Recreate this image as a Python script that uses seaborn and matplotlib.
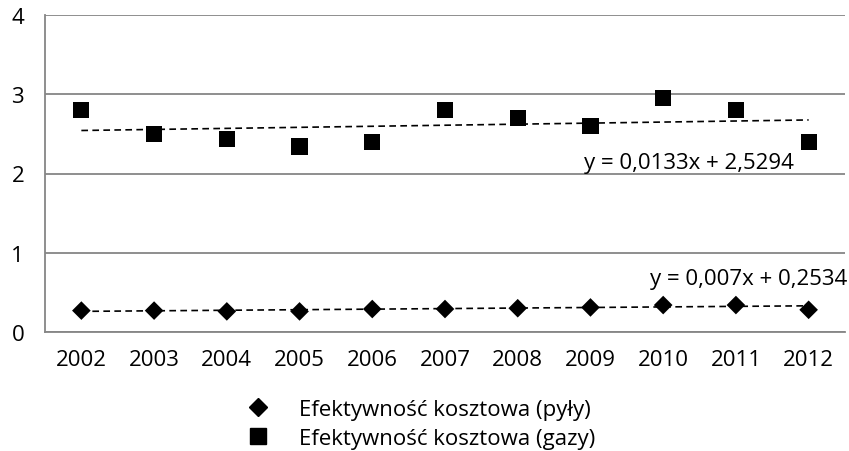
import matplotlib
matplotlib.use("Agg")
import matplotlib.pyplot as plt
import seaborn as sns
import numpy as np
import pandas as pd
from matplotlib.lines import Line2D

years = ["2002", "2003", "2004", "2005", "2006", "2007", "2008", "2009", "2010", "2011", "2012"]
pyly = [0.27, 0.27, 0.26, 0.26, 0.29, 0.29, 0.30, 0.31, 0.34, 0.34, 0.28]
gazy = [2.80, 2.50, 2.44, 2.34, 2.40, 2.80, 2.70, 2.60, 2.95, 2.80, 2.40]
series_names = ["Efektywność kosztowa (pyły)", "Efektywność kosztowa (gazy)"]
trend_pyly = [0.007, 0.2534]
trend_gazy = [0.0133, 2.5294]
trend_labels = ["y = 0,007x + 0,2534", "y = 0,0133x + 2,5294"]
yticks = [0, 1, 2, 3, 4]

sns.set_theme(style="white")
plt.rcParams['font.family'] = ['Open Sans', 'DejaVu Sans']
plt.rcParams['text.color'] = 'black'
plt.rcParams['xtick.labelcolor'] = 'black'
plt.rcParams['ytick.labelcolor'] = 'black'
FS = 16

fig = plt.figure(figsize=(8.49, 4.52), dpi=100)
ax = fig.add_axes([45/849, (452-333)/452, 800/849, (333-16)/452])

pos = np.arange(len(years))
df_p = pd.DataFrame({"pos": pos, "val": pyly})
df_g = pd.DataFrame({"pos": pos, "val": gazy})

grid_c = "#868686"
for yv in yticks:
    ax.axhline(yv, color=grid_c, lw=1.3, zorder=0)

# trend lines
xn = pos + 1
ax.plot(pos, trend_pyly[0] * xn + trend_pyly[1], ls=(0, (4, 2.6)), color="black", lw=1.2, zorder=2)
ax.plot(pos, trend_gazy[0] * xn + trend_gazy[1], ls=(0, (4, 2.6)), color="black", lw=1.2, zorder=2)

sns.scatterplot(data=df_p, x="pos", y="val", marker="D", color="black", s=90,
                edgecolor="none", ax=ax, zorder=3, legend=False)
sns.scatterplot(data=df_g, x="pos", y="val", marker="s", color="black", s=135,
                edgecolor="none", ax=ax, zorder=3, legend=False)

ax.set_xlim(-0.5, len(years) - 0.5)
ax.set_ylim(0, 4)
ax.set_yticks(yticks)
ax.set_yticklabels([str(v) for v in yticks], fontsize=FS, color="black")
ax.set_xticks(pos)
ax.set_xticklabels(years, fontsize=FS, color="black")
ax.set_xticks(np.arange(-0.5, len(years)), minor=True)
ax.tick_params(axis="x", which="major", length=0, pad=12)
ax.tick_params(axis="x", which="minor", length=6, width=1.3, color=grid_c, direction="out")
ax.tick_params(axis="y", length=7, width=1.3, color=grid_c, direction="out", pad=8)
ax.set_xlabel("")
ax.set_ylabel("")
for s in ["top", "right"]:
    ax.spines[s].set_visible(False)
for s in ["left", "bottom"]:
    ax.spines[s].set_color(grid_c)
    ax.spines[s].set_linewidth(1.3)
ax.grid(False)

ax.text(8.355, 2.14, trend_labels[1], fontsize=FS, ha="center", va="center", color="black")
ax.text(9.17, 0.67, trend_labels[0], fontsize=FS, ha="center", va="center", color="black")

handles = [
    Line2D([], [], marker="D", ls="none", color="black", markersize=9),
    Line2D([], [], marker="s", ls="none", color="black", markersize=11.5),
]
leg = fig.legend(handles, series_names, loc="upper left", bbox_to_anchor=(227/849, 0.135),
                 frameon=False, fontsize=FS, ncol=1, handletextpad=0.82, labelspacing=0.37,
                 borderaxespad=0)
for t in leg.get_texts():
    t.set_color("black")

fig.savefig("out.png", dpi=100)
